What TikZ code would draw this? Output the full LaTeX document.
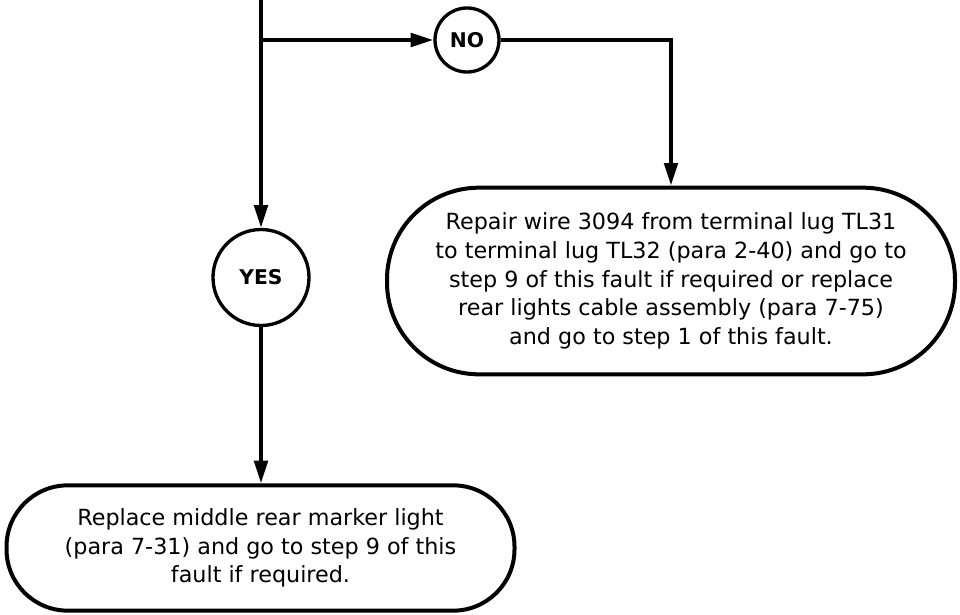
\documentclass[tikz,border=0pt]{standalone}
\usepackage{fontspec}
\newfontfamily\chartfont{DejaVu Sans}
\usetikzlibrary{arrows.meta, positioning}

\begin{document}
\begin{tikzpicture}[x=0.75pt, y=-0.75pt,
        answer/.style={circle, draw=black, line width=2.5pt, fill=white, minimum size=#1, inner sep=0pt, font=\chartfont\bfseries\fontsize{15.2}{18}\selectfont},
        action/.style={rectangle, draw=black, line width=3pt, fill=white, align=center, font=\chartfont\fontsize{16.7}{21.5}\selectfont},
        flow/.style={line width=3pt, black},
        arrow/.style={flow, -{Triangle[length=17pt, width=10pt]}}
    ]
        \useasboundingbox (0,0) rectangle (960,614);

        % Incoming line and branch point
        \coordinate (top) at (261,0);
        \coordinate (split) at (261,40);

        % Answers
        \node[answer=48pt] (no) at (467,40) {NO};
        \node[answer=72pt] (yes) at (261,277.5) {YES};

        % Actions
        \node[action, minimum width=426pt, minimum height=140pt, rounded corners=69pt] (repair) at (671,281)
            {Repair wire 3094 from terminal lug TL31\\to terminal lug TL32 (para 2-40) and go to\\step 9 of this fault if required or replace\\rear lights cable assembly (para 7-75)\\and go to step 1 of this fault.};
        \node[action, minimum width=381pt, minimum height=94pt, rounded corners=46pt] (replace) at (260.5,548)
            {Replace middle rear marker light\\(para 7-31) and go to step 9 of this\\fault if required.};

        % Connections
        \draw[arrow] (top) -- (yes.north);
        \draw[arrow] (split) -- (no.west);
        \draw[arrow] (no.east) -| (repair.north);
        \draw[arrow] (yes.south) -- (yes.south |- replace.north);

    \end{tikzpicture}
\end{document}
